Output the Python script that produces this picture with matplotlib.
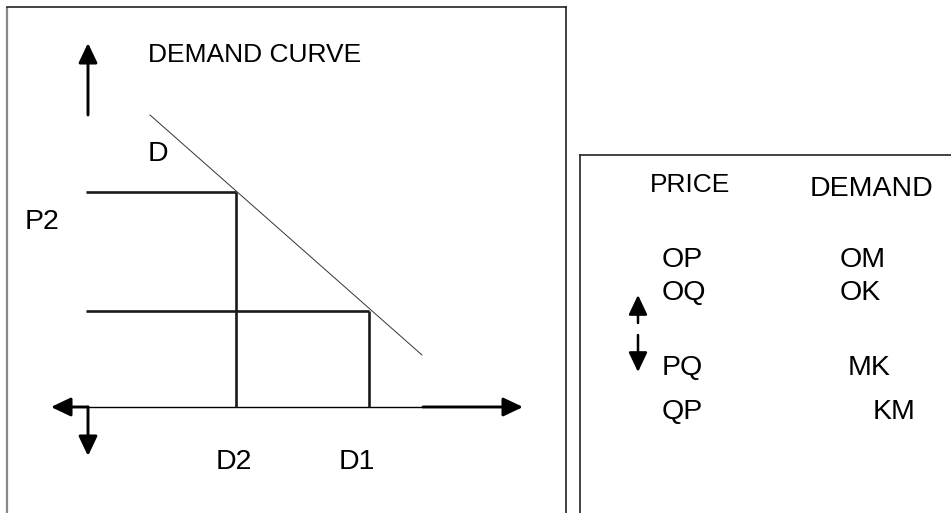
import matplotlib.pyplot as plt

plt.rcParams['font.family'] = ['Liberation Sans', 'DejaVu Sans']

# diagram geometry in picture pixels (x right, y down)
demand_x = [150, 422]
demand_y = [115, 355]

p2_level = 192
p1_level = 311
d2_pos = 236
d1_pos = 369
axis_y = 407
origin_x = 88

x_labels = ["D2", "D1"]
x_label_pos = [234, 357]

price_col = ["OP", "OQ", "PQ", "QP"]
demand_col = ["OM", "OK", "MK", "KM"]
row_y = [260, 293, 368, 412]
demand_col_x = [840, 840, 848, 873]

W, H = 951, 513
fig = plt.figure(figsize=(W / 100, H / 100), dpi=100)
ax = fig.add_axes([0, 0, 1, 1])
ax.set_xlim(0, W)
ax.set_ylim(H, 0)
ax.axis("off")

# frames
ax.plot([7, 7], [H, 7], color="#888888", lw=1.6, solid_capstyle="butt")
ax.plot([7, 566], [7, 7], color="#222222", lw=1.2)
ax.plot([566, 566], [7, H], color="#222222", lw=1.2)
ax.plot([580, 580], [H, 155], color="#222222", lw=1.2)
ax.plot([580, W], [155, 155], color="#222222", lw=1.2)


def arrow(x0, y0, x1, y1, lw=2.1):
    ax.annotate("", xy=(x1, y1), xytext=(x0, y0),
                arrowprops=dict(arrowstyle="-|>,head_length=0.8,head_width=0.38",
                                lw=lw, color="black", mutation_scale=15,
                                shrinkA=0, shrinkB=0))


# axes arrows
arrow(origin_x, 115, origin_x, 43)
arrow(origin_x, axis_y, origin_x, 456)
arrow(origin_x, axis_y, 51, axis_y)
arrow(423, axis_y, 523, axis_y)
ax.plot([origin_x, 422], [axis_y, axis_y], color="black", lw=1.0)

# demand curve
ax.plot(demand_x, demand_y, color="#333333", lw=0.7)

# price / quantity guides
guide = dict(color="#1a1a1a", lw=1.9, solid_capstyle="butt")
ax.plot([86, d2_pos], [p2_level, p2_level], **guide)
ax.plot([86, d1_pos], [p1_level, p1_level], **guide)
ax.plot([d2_pos, d2_pos], [p2_level, axis_y], **guide)
ax.plot([d1_pos, d1_pos], [p1_level, axis_y], **guide)

fs = 20.5
ax.text(148, 55, "DEMAND CURVE", fontsize=19, ha="left", va="center")
ax.text(148, 154, "D", fontsize=fs, ha="left", va="center")
ax.text(25, 222, "P2", fontsize=fs, ha="left", va="center")
for lab, xp in zip(x_labels, x_label_pos):
    ax.text(xp, 462, lab, fontsize=fs, ha="center", va="center")

# right table
ax.text(650, 185, "PRICE", fontsize=19, ha="left", va="center")
ax.text(810, 189, "DEMAND", fontsize=fs, ha="left", va="center")
for lab, yp in zip(price_col, row_y):
    ax.text(662, yp, lab, fontsize=fs, ha="left", va="center")
for lab, xp, yp in zip(demand_col, demand_col_x, row_y):
    ax.text(xp, yp, lab, fontsize=fs, ha="left", va="center")

arrow(638, 323, 638, 295, lw=1.8)
arrow(638, 335, 638, 372, lw=1.8)

fig.savefig("out.png", dpi=100)
